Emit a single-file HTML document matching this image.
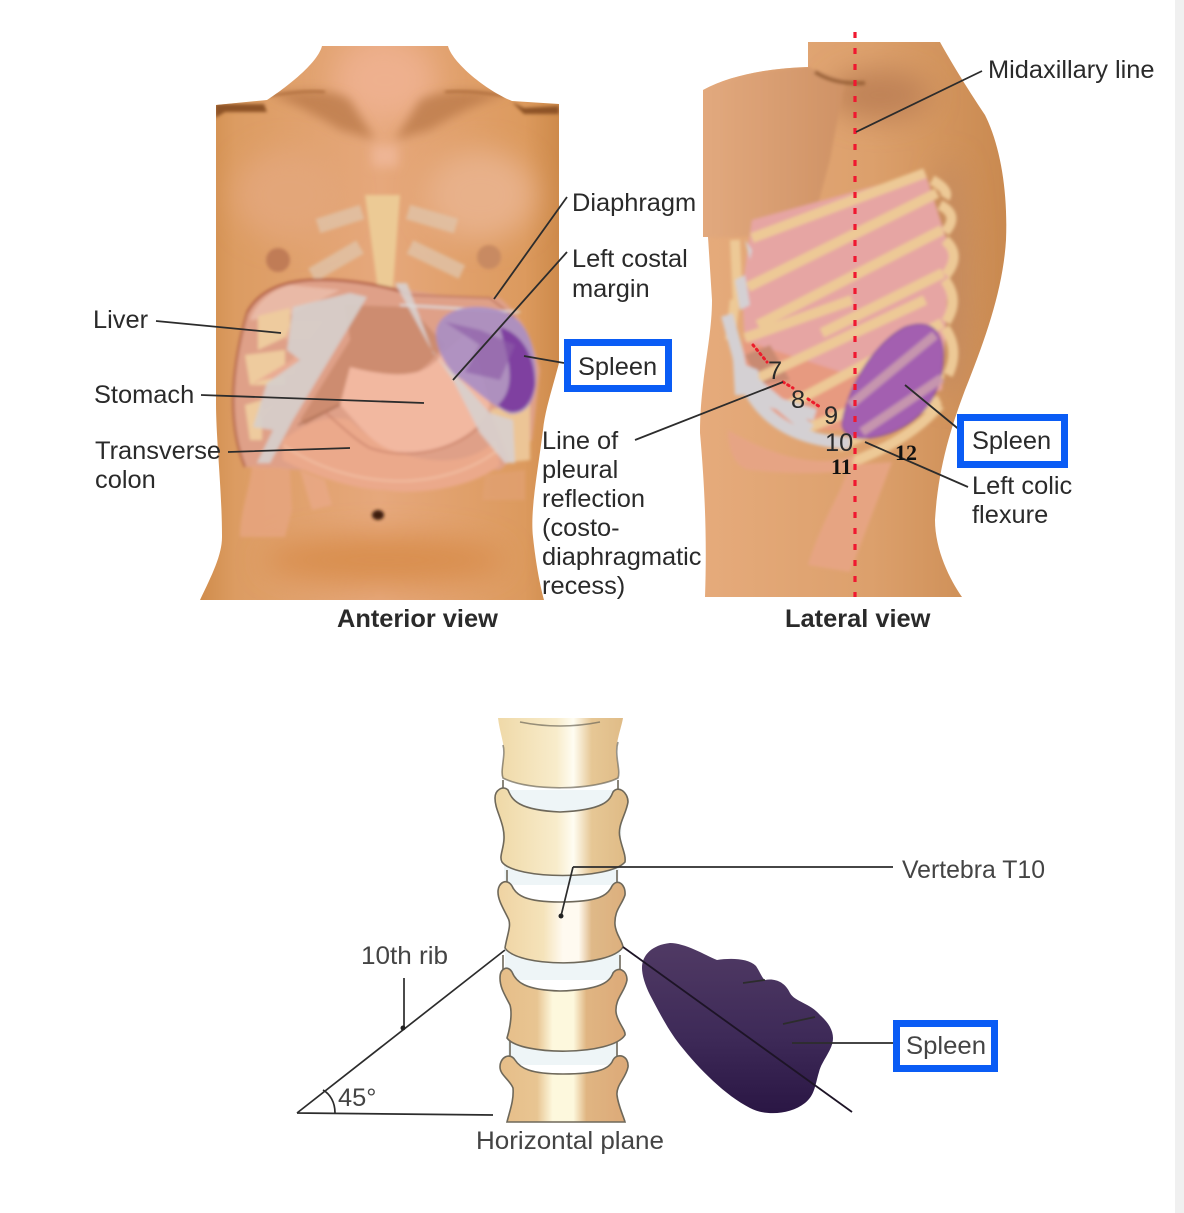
<!DOCTYPE html>
<html><head><meta charset="utf-8"><style>
html,body{margin:0;padding:0;background:#fff}
svg{display:block}
text{font-family:"Liberation Sans",sans-serif;fill:#2a2a2a;font-size:25.4px}
.b{font-weight:bold;fill:#2a2a2a}
.l{stroke:#2c2c2c;stroke-width:1.8;fill:none}
.s{font-family:"Liberation Serif",serif;font-size:22px;font-weight:bold;fill:#111}
.g{fill:#444}
.box{fill:#fff;stroke:#0a5cf5;stroke-width:7}
.v{stroke:#6e685a;stroke-width:1.6}
</style></head><body>
<svg width="1184" height="1213" viewBox="0 0 1184 1213" xmlns="http://www.w3.org/2000/svg">
<defs>
<filter id="b1" x="-10%" y="-10%" width="120%" height="120%"><feGaussianBlur stdDeviation="1.5"/></filter>
<filter id="b2" x="-30%" y="-30%" width="160%" height="160%"><feGaussianBlur stdDeviation="5"/></filter>
<filter id="b3" x="-50%" y="-50%" width="200%" height="200%"><feGaussianBlur stdDeviation="14"/></filter>
<linearGradient id="sk" x1="0" x2="1" y1="0" y2="0"><stop offset="0" stop-color="#cd8845"/><stop offset=".12" stop-color="#dc9c62"/><stop offset=".5" stop-color="#e6a87c"/><stop offset=".88" stop-color="#dc9a5e"/><stop offset="1" stop-color="#c98544"/></linearGradient>
<linearGradient id="sk2" x1="0" x2="1" y1="0" y2="0"><stop offset="0" stop-color="#e6ab7c"/><stop offset=".55" stop-color="#dca06c"/><stop offset="1" stop-color="#c8884e"/></linearGradient>
<linearGradient id="arm" x1="0" x2="1" y1="0" y2="0"><stop offset="0" stop-color="#e2a97e"/><stop offset="1" stop-color="#cf9265"/></linearGradient>
<linearGradient id="spl" x1="0" x2="0" y1="0" y2="1"><stop offset="0" stop-color="#503a64"/><stop offset=".55" stop-color="#3e2a58"/><stop offset="1" stop-color="#2a1644"/></linearGradient>
<linearGradient id="bone" gradientUnits="userSpaceOnUse" x1="498" x2="628" y1="0" y2="0"><stop offset="0" stop-color="#efd9a8"/><stop offset=".45" stop-color="#f8eccb"/><stop offset=".58" stop-color="#fffdf2"/><stop offset=".72" stop-color="#e6c795"/><stop offset="1" stop-color="#dfba85"/></linearGradient>
<linearGradient id="bone3" gradientUnits="userSpaceOnUse" x1="498" x2="628" y1="0" y2="0"><stop offset="0" stop-color="#efd3a2"/><stop offset=".35" stop-color="#f5e3ba"/><stop offset=".5" stop-color="#fffaf0"/><stop offset=".62" stop-color="#fffaf0"/><stop offset=".72" stop-color="#dfb988"/><stop offset="1" stop-color="#dcae7c"/></linearGradient>
<linearGradient id="bone2" gradientUnits="userSpaceOnUse" x1="498" x2="628" y1="0" y2="0"><stop offset="0" stop-color="#e6bd88"/><stop offset=".3" stop-color="#e8c592"/><stop offset=".42" stop-color="#fdf8dd"/><stop offset=".58" stop-color="#fdf8dd"/><stop offset=".68" stop-color="#e0b582"/><stop offset="1" stop-color="#dca978"/></linearGradient>
<clipPath id="ca"><path d="M322 46H448C452 62 485 90 512 101L559 104V363C552 390 545 410 543 430C538 470 530 510 533 537C536 565 540 585 544 600H200C212 575 222 555 222 537C222 490 216 440 216 403V105L267 100C290 85 318 62 322 46Z"/></clipPath>
<clipPath id="cl"><path d="M808 42H940C950 60 965 85 985 115C1000 145 1008 190 1006 240C1003 290 985 340 965 390C950 430 938 470 935 520C935 550 950 580 962 597H705C707 540 705 490 700 433C700 380 712 340 712 300L708 237H703V90C730 75 770 68 808 67Z"/></clipPath>
</defs>
<rect width="1184" height="1213" fill="#fff"/>
<rect x="1175" width="9" height="1213" fill="#f0f0f0"/>

<!-- Anterior -->
<g clip-path="url(#ca)">
<rect x="190" y="40" width="380" height="570" fill="url(#sk)"/>
<g filter="url(#b3)"><ellipse cx="385" cy="80" rx="50" ry="40" fill="#eeb08e"/><ellipse cx="385" cy="560" rx="120" ry="25" fill="#d98f50"/><ellipse cx="480" cy="195" rx="55" ry="45" fill="#e8b18a"/><ellipse cx="290" cy="195" rx="55" ry="45" fill="#e3a679"/></g>
<g filter="url(#b2)"><path d="M270 95Q330 85 350 100L375 140L340 130Q300 105 270 95ZM505 95Q450 85 420 100L395 140L430 130Q470 105 505 95Z" fill="#bb7b4b" opacity=".8"/><rect x="372" y="145" width="26" height="22" fill="#eeb594"/></g>
<g filter="url(#b1)">
<path d="M215 104H264L267 112H225L215 118ZM512 102L524 108L559 106V114L524 114Z" fill="#8d5226"/>
<path d="M268 96Q305 90 325 92M505 96Q470 90 445 92" stroke="#a66535" stroke-width="2" fill="none"/>
</g>
<g filter="url(#b1)">
<circle cx="278" cy="260" r="12" fill="#c07c56"/><circle cx="489" cy="257" r="12" fill="#c88a62"/>
<g fill="none" stroke="#e0c3a8" stroke-width="15" opacity=".8"><path d="M318 226L362 212M456 226L408 212M312 275L360 247M462 272L410 247"/></g>
<path d="M365 195H400L392 300L395 322H374L378 290Z" fill="#ecca95"/>
<!-- liver -->
<path d="M245 467C230 430 228 380 247 313C258 292 280 282 310 280C350 278 395 288 440 295L500 298C520 315 530 330 540 370L532 440L500 470L300 470Z" fill="#dfa088"/>
<path d="M247 313C258 292 280 282 310 280C350 278 395 288 410 295" fill="none" stroke="#b15d43" stroke-width="2.5"/>
<path d="M245 467C230 430 228 380 247 313" fill="none" stroke="#b86a4e" stroke-width="2.5"/>
<path d="M410 295L490 298L515 318" fill="none" stroke="#b96d55" stroke-width="1.5"/>
<path d="M290 285C270 290 255 305 250 320L290 315L340 290Z" fill="#e9b9a6"/>
<path d="M258 316L290 308V335L258 350ZM245 355L285 350V385L250 385ZM245 405L262 400V440L250 440Z" fill="#eecb9e"/>
<path d="M490 410L530 400L530 460L510 462Z" fill="#ecc596"/>
<!-- central liver -->
<path d="M345 305L410 307L445 345L430 362L395 392L350 400L305 425L300 420L350 340Z" fill="#cd8c70"/>
<path d="M298 425L350 400L395 392Q425 382 438 358" fill="none" stroke="#a0634a" stroke-width="1.5"/>
<path d="M292 320H325L310 340H285ZM292 360L300 350L295 375L262 380L250 385ZM258 412L280 400L262 420Z" fill="#e9ab93"/>
<!-- colon -->
<path d="M283 440C310 420 330 415 350 420C400 470 470 470 495 440L500 465C470 490 410 495 385 490C350 490 300 470 283 460Z" fill="#eba98b"/>
<path d="M283 445C320 470 360 480 395 481C430 482 470 472 498 450" fill="none" stroke="#f2c4a8" stroke-width="1.5"/>
<path d="M252 465C262 470 280 465 290 470L292 510L285 537L240 537C240 510 250 490 252 465Z" fill="#e6a47f" opacity=".85"/>
<path d="M300 470L325 480L332 505L312 510Z" fill="#e9a885" opacity=".85"/>
<path d="M485 475L525 470L525 500L482 500Z" fill="#e2a175" opacity=".65"/>
<!-- stomach -->
<path d="M350 367Q420 385 438 358L470 330L490 405C480 435 440 455 400 452C375 450 355 420 340 405Z" fill="#f2b8a0"/>
<path d="M325 412C340 425 355 440 370 448C420 465 470 440 480 425" fill="none" stroke="#c98068" stroke-width="1.5"/>
<!-- grey costal -->
<path d="M367 297L350 293L293 307L287 350L300 360L267 383L253 427L273 430L257 463L270 463L293 420Z" fill="#d6cfca" opacity=".93"/>
<path d="M395 283L407 283L433 353L463 383L490 413L513 420L515 463L505 463L480 433L453 380L430 347Z" fill="#d8d0cc" opacity=".93"/>
<path d="M400 305L520 312" stroke="#ddd" stroke-width="2" fill="none"/>
<!-- spleen -->
<path d="M436 335C435 315 460 303 490 308C515 312 530 325 535 360C540 395 530 415 510 414C490 405 470 385 455 375C445 365 437 350 436 335Z" fill="#a88ec4" opacity=".9"/>
<path d="M500 327C525 335 535 360 535 385C530 415 510 417 498 405C520 385 505 350 500 327Z" fill="#7f3fa0"/>
<path d="M445 322L480 330L515 345L500 380L465 372L480 345Z" fill="#8d5ca8" opacity=".65"/>
<ellipse cx="378" cy="515" rx="6" ry="5" fill="#3e1f0d"/>
</g>
</g>

<!-- Lateral -->
<g clip-path="url(#cl)">
<rect x="695" y="40" width="320" height="560" fill="url(#sk2)"/>
<g filter="url(#b3)"><ellipse cx="950" cy="280" rx="18" ry="120" fill="#c48a5e"/><ellipse cx="880" cy="95" rx="50" ry="25" fill="#bf8257"/></g>
<g filter="url(#b1)">
<path d="M703 90C730 75 770 68 808 67L845 80L830 160L810 234L708 238H703Z" fill="url(#arm)"/>
<path d="M815 72Q835 85 865 83" stroke="#9a6238" stroke-width="4" fill="none"/>
<path d="M752 220L925 172L950 250L942 390L860 415L790 405L745 350L742 290Z" fill="#e6a5a3"/>
<path d="M743 340L850 375L940 365L930 400L860 430L800 430L745 395Z" fill="#e79a80"/>
<path d="M745 355L770 345L790 380L760 385Z" fill="#c98a72"/>
<g fill="none" stroke="#edc996" stroke-width="10">
<path d="M752 238L925 173M748 287L937 193M758 325L942 230M822 333L943 273M745 338L852 300M758 378L925 300M785 407L942 323M808 428L943 373M838 447L940 400"/>
<path d="M852 462Q910 440 940 405M735 240L738 305M735 300L730 340"/>
<path d="M932 180Q950 190 945 198M940 205Q960 215 945 232M945 240Q962 255 946 275M945 280Q960 300 946 322M945 328Q960 350 948 375"/>
</g>
<path d="M728 430C770 455 820 470 855 455L850 470C820 475 780 473 750 470C735 468 728 450 728 430Z" fill="#e6a484"/>
<path d="M850 465L892 462L868 525L850 572L808 565C815 540 830 510 840 490Z" fill="#e6a482"/>
<g fill="none" stroke="#d4d0d3" stroke-width="12"><path d="M727 315L738 355C745 400 775 440 850 443"/><path d="M745 375L810 430M750 395L815 415"/></g>
<path d="M733 360L758 370L760 395L735 395ZM745 240L752 250L750 260ZM735 280L745 275L750 305L740 310Z" fill="#d4d0d3"/>
<path d="M842 425C845 395 870 345 905 327C925 320 940 325 943 350C945 390 925 420 890 433C870 440 845 442 842 425Z" fill="#a35fb0" stroke="#7b4691"/>
<g fill="none" stroke="#cd9fae" stroke-width="9" opacity=".85"><path d="M850 405L935 335M862 432L942 378"/></g>
</g>
</g>
<path d="M855 32V597" stroke="#f01830" stroke-width="3.2" stroke-dasharray="6 10" fill="none"/>
<path d="M753 345L767 362M783 382L793 388M808 399L820 407" stroke="#ec1c2c" stroke-width="3" stroke-dasharray="1.5 4" stroke-linecap="round" fill="none"/>

<path class="l" d="M156 321L281 333M201 395L424 403M228 452L350 448M567 197L494 299M567 252L453 380M564 363L524 356M635 440L783 382M982 71L856 132M967 436L905 385M968 487L865 442"/>

<text x="93" y="328">Liver</text><text x="94" y="403">Stomach</text><text x="95" y="459">Transverse</text><text x="95" y="488">colon</text>
<text x="572" y="211">Diaphragm</text><text x="572" y="267">Left costal</text><text x="572" y="297">margin</text>
<text x="542" y="449">Line of</text><text x="542" y="478">pleural</text><text x="542" y="507">reflection</text><text x="542" y="536">(costo-</text><text x="542" y="565">diaphragmatic</text><text x="542" y="594">recess)</text>
<text x="988" y="78">Midaxillary line</text><text x="972" y="494">Left colic</text><text x="972" y="523">flexure</text>
<text x="768" y="379">7</text><text x="791" y="408">8</text><text x="824" y="424">9</text><text x="825" y="451">10</text>
<text class="s" x="831" y="474">11</text><text class="s" x="895" y="460">12</text>
<text class="b" x="337" y="627">Anterior view</text><text class="b" x="785" y="627">Lateral view</text>

<rect class="box" x="567.5" y="342.5" width="101" height="46"/><text x="578" y="375">Spleen</text>
<rect class="box" x="960.5" y="417.5" width="104" height="47"/><text x="972" y="449">Spleen</text>

<!-- Spine -->
<path d="M500 790H624L618 885H505ZM505 870H618V885H505ZM505 950H620V980H505ZM508 1035H618V1065H508Z" fill="#eef5f7"/>
<path class="v" d="M503 780V792M618 780V792M507 870V884M617 870V884M503 955V972M620 955V972M510 1040V1057M617 1040V1057" fill="none"/>
<path d="M498 718C500 735 507 750 503 760C502 770 500 775 503 778C530 792 595 790 618 778C620 770 616 760 616 750C618 735 622 725 623 718Z" fill="url(#bone)"/>
<path class="v" d="M503 745C506 755 500 770 503 778C530 792 595 790 618 778C621 770 614 755 618 742M520 722Q560 730 600 722" fill="none" opacity=".7"/>
<path class="v" fill="url(#bone)" d="M495 798C495 790 503 785 508 790C512 800 518 810 560 812C605 810 610 800 613 792C618 785 628 792 628 802C626 815 617 825 620 838C622 848 626 855 625 862C610 880 515 880 502 862C498 855 507 845 503 828C500 815 495 808 495 798Z"/>
<path class="v" fill="url(#bone3)" d="M498 892C498 882 507 878 512 886C516 895 525 902 560 902C600 902 608 895 612 886C617 878 626 884 625 895C622 905 614 910 615 925C616 935 622 940 623 947C610 968 518 968 505 948C507 935 512 925 508 918C503 908 498 900 498 892Z"/>
<path class="v" fill="url(#bone2)" d="M500 978C500 968 508 965 512 972C516 982 525 990 560 991C600 990 610 982 613 973C618 966 627 970 627 980C625 992 615 998 616 1012C617 1022 626 1030 625 1035C612 1056 520 1056 507 1038C511 1025 512 1012 510 1005C505 995 500 988 500 978Z"/>
<path class="v" fill="url(#bone2)" d="M500 1067C500 1057 510 1052 515 1060C520 1068 530 1074 563 1074C600 1074 610 1068 613 1060C618 1052 629 1056 628 1067C626 1078 616 1085 617 1095C618 1105 623 1115 625 1122H507C510 1110 514 1100 513 1088C510 1080 500 1075 500 1067Z"/>

<path d="M642 968C642 955 652 945 670 943C685 943 705 955 717 960C730 958 748 958 756 966C760 972 762 978 765 980C775 978 785 982 790 993C795 1002 810 1003 820 1015C828 1022 833 1030 833 1038C833 1050 822 1060 819 1072C815 1085 815 1095 805 1103C790 1115 765 1116 750 1108C725 1095 700 1070 680 1045C668 1030 658 1010 650 995C645 985 642 975 642 968Z" fill="url(#spl)"/>
<path d="M623 947L852 1112" stroke="#1d1426" stroke-width="1.8" fill="none"/>
<path d="M743 983L765 980M783 1024L815 1017M792 1043H893M573 867L561 916M573 867H893M297 1113L505 950M297 1113L493 1115M404 978V1028M335 1113C335 1102 330 1094 323 1090" stroke="#2c2c2c" stroke-width="1.7" fill="none"/>
<circle cx="403" cy="1028" r="2.5" fill="#222"/><circle cx="561" cy="916" r="2.5" fill="#222"/>
<text class="g" x="361" y="964" textLength="87" lengthAdjust="spacingAndGlyphs">10th rib</text>
<text class="g" x="338" y="1106">45°</text>
<text class="g" x="476" y="1149" textLength="188" lengthAdjust="spacingAndGlyphs">Horizontal plane</text>
<text class="g" x="902" y="878" textLength="143" lengthAdjust="spacingAndGlyphs">Vertebra T10</text>
<rect class="box" x="896.5" y="1023.5" width="98" height="45"/><text class="g" x="906" y="1054" textLength="80" lengthAdjust="spacingAndGlyphs">Spleen</text>
</svg>
</body></html>
